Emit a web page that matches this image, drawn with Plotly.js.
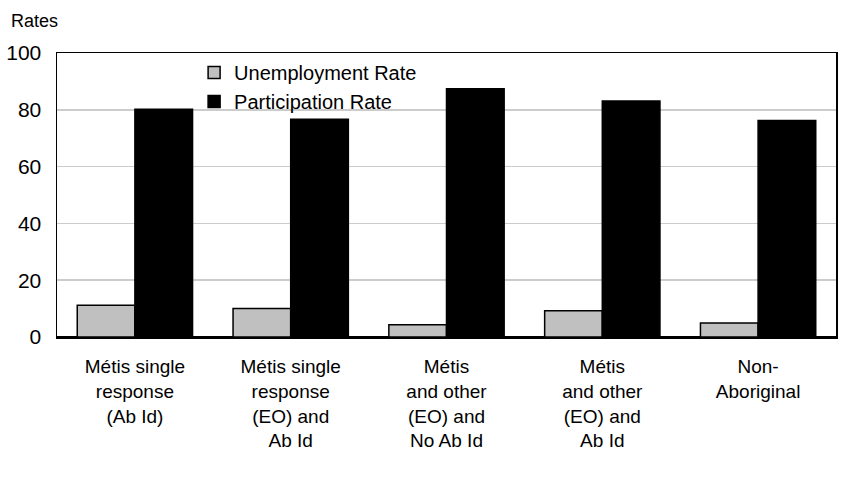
<!DOCTYPE html>
<html>
<head>
<meta charset="utf-8">
<script src="https://cdn.plot.ly/plotly-3.0.1.min.js"></script>
<style>html,body{margin:0;padding:0;background:#fff;}#chart{width:843px;height:488px;}</style>
</head>
<body>
<div id="chart"></div>
<script>
const categories = [
  "Métis single<br>response<br>(Ab Id)",
  "Métis single<br>response<br>(EO) and<br>Ab Id",
  "Métis<br>and other<br>(EO) and<br>No Ab Id",
  "Métis<br>and other<br>(EO) and<br>Ab Id",
  "Non-<br>Aboriginal"
];
const unemploymentRate = [11.2, 10.0, 4.3, 9.2, 4.9];
const participationRate = [80.2, 76.7, 87.4, 83.1, 76.2];
const yTicks = [0, 20, 40, 60, 80, 100];

const FONT = "Liberation Sans, Arial, sans-serif";

const data = [
  {type: "bar", name: "Unemployment Rate", x: categories, y: unemploymentRate,
   marker: {color: "#c0c0c0", line: {color: "#000", width: 1.5}}},
  {type: "bar", name: "Participation Rate", x: categories, y: participationRate,
   marker: {color: "#000000", line: {color: "#000", width: 1.5}}}
];

const layout = {
  width: 843, height: 488,
  margin: {l: 57, r: 7, t: 53, b: 151},
  paper_bgcolor: "#fff", plot_bgcolor: "#fff",
  font: {family: FONT, size: 18, color: "#000"},
  barmode: "group",
  bargap: 0.26, bargroupgap: 0,
  showlegend: true,
  legend: {x: 0.176, y: 1.0, xanchor: "left", yanchor: "top",
           bgcolor: "rgba(0,0,0,0)", font: {family: FONT, size: 20},
           tracegroupgap: 0, itemwidth: 30},
  xaxis: {showline: true, linecolor: "#000", linewidth: 1.5, mirror: true,
          tickfont: {family: FONT, size: 19}, ticks: "outside", ticklen: 12,
          tickcolor: "rgba(0,0,0,0)", showgrid: false},
  yaxis: {range: [0, 100], tickvals: yTicks, ticktext: yTicks.map(String),
          showgrid: true, gridcolor: "#cccccc", gridwidth: 1.5,
          showline: true, linecolor: "#000", linewidth: 1.5, mirror: true,
          zeroline: true, zerolinecolor: "#000", zerolinewidth: 3,
          ticks: "outside", ticklen: 10, tickcolor: "rgba(0,0,0,0)",
          tickfont: {family: FONT, size: 21}},
  annotations: [{text: "Rates", xref: "paper", yref: "paper", x: -0.062, y: 1.072,
                 xanchor: "left", yanchor: "bottom", showarrow: false,
                 font: {family: FONT, size: 18}}]
};

Plotly.newPlot("chart", data, layout, {displayModeBar: false, staticPlot: true});
</script>
</body>
</html>
